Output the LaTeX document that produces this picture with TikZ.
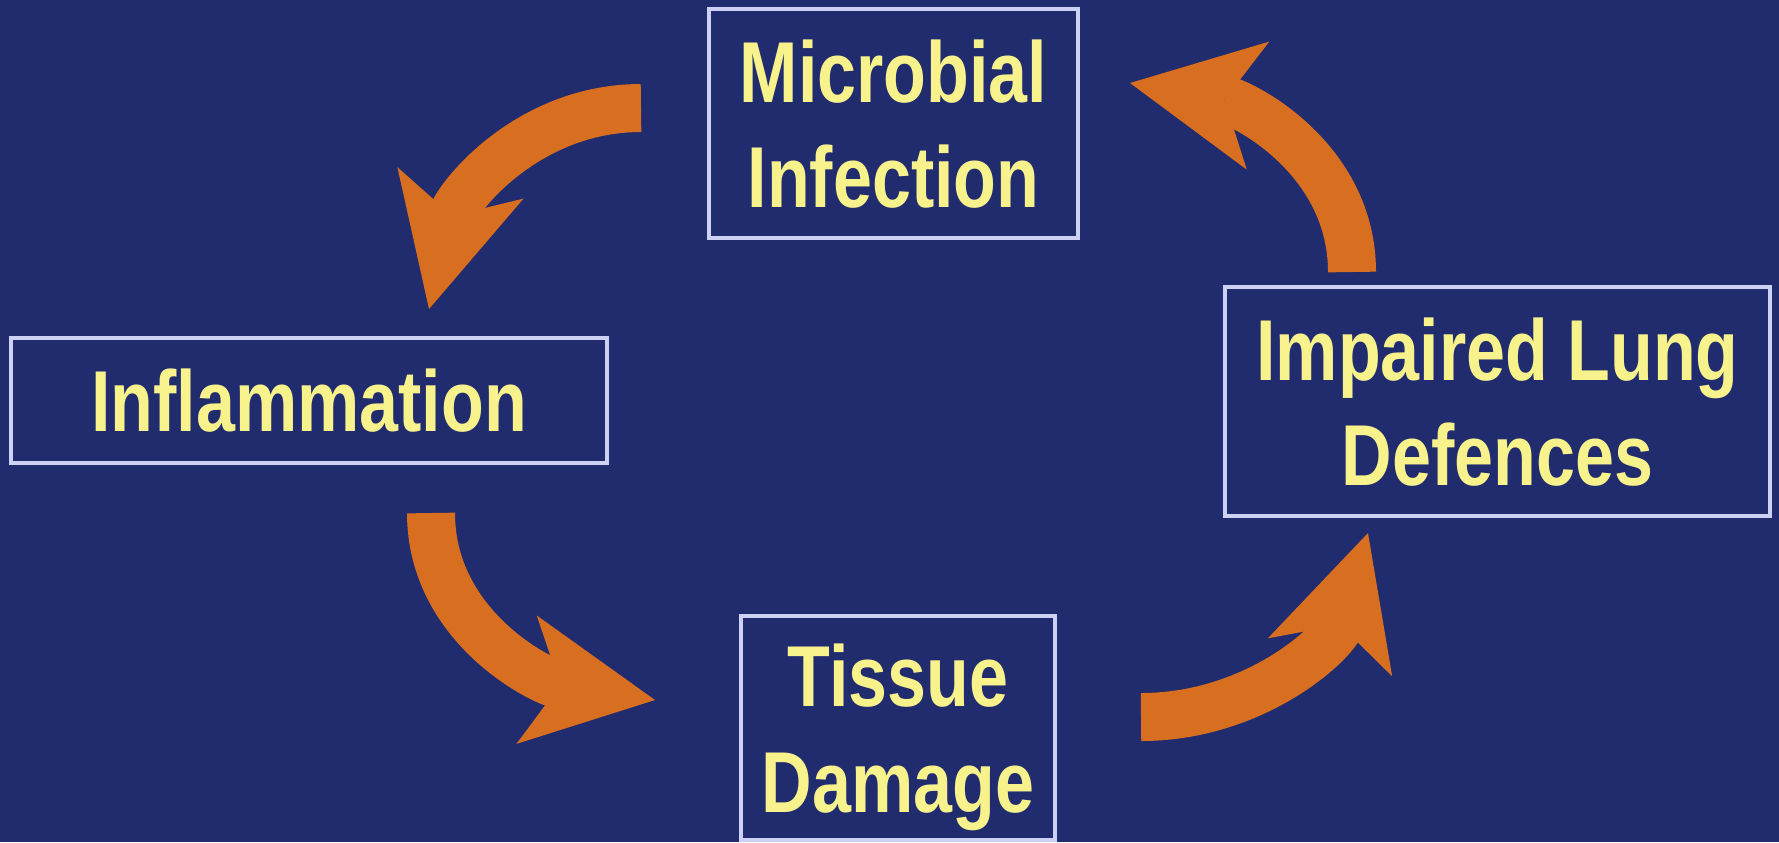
\documentclass[tikz,border=0pt]{standalone}
\usepackage{fontspec}
\newfontfamily\boxfont[FakeStretch=0.81]{Liberation Sans}
\usepackage{tikz}
\usetikzlibrary{arrows.meta,positioning}

\definecolor{navy}{RGB}{33,44,110}
\definecolor{boxline}{RGB}{205,210,245}
\definecolor{txtyellow}{RGB}{247,242,140}
\definecolor{arrorange}{RGB}{216,110,32}

\begin{document}
\begin{tikzpicture}[
  box/.style={draw=boxline,line width=0.9pt,fill=navy,text=txtyellow,align=center,
              font=\boxfont\bfseries\fontsize{24.6}{30}\selectfont,inner sep=0pt,text depth=0pt},
  cyc/.style={draw=arrorange,line width=4.8mm,
              -{Stealth[length=13mm,width=13mm,inset=3.4mm,line width=0pt 0]}}]

\fill[navy] (0,0) rectangle (17.79,-8.42);
\useasboundingbox (0,0) rectangle (17.79,-8.42);

\node[box,minimum width=3.69cm,minimum height=2.29cm] (mic) at (8.935,-1.235)
  {Microbial\\Infection};
\node[box,minimum width=5.96cm,minimum height=1.25cm] (infl) at (3.09,-4.005)
  {Inflammation};
\node[box,minimum width=5.45cm,minimum height=2.29cm] (imp) at (14.975,-4.015)
  {Impaired Lung\\Defences};
\node[box,minimum width=3.14cm,minimum height=2.24cm] (tis) at (8.98,-7.28)
  {Tissue\\Damage};

\coordinate (c1s) at (6.41,-1.08);
\coordinate (c1e) at (4.29,-3.09);
\coordinate (c2s) at (4.31,-5.13);
\coordinate (c2e) at (6.55,-7.00);
\coordinate (c3s) at (11.41,-7.17);
\coordinate (c3e) at (13.68,-5.33);
\coordinate (c4s) at (13.52,-2.72);
\coordinate (c4e) at (11.30,-0.83);

\draw[cyc] (c1s) to[out=180,in=76]  (c1e);
\draw[cyc] (c2s) to[out=-90,in=171] (c2e);
\draw[cyc] (c3s) to[out=0,in=253]   (c3e);
\draw[cyc] (c4s) to[out=90,in=-10]  (c4e);
\end{tikzpicture}
\end{document}
